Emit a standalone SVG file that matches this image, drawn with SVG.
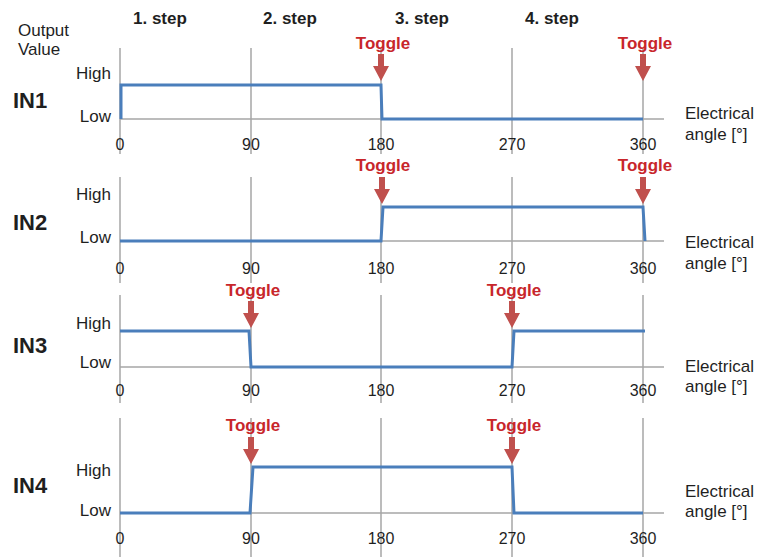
<svg xmlns="http://www.w3.org/2000/svg" width="757" height="557" viewBox="0 0 757 557">
<style>
text{font-family:"Liberation Sans",Arial,sans-serif;fill:#1f1f1f}
.grid{stroke:#a6a6a6;stroke-width:1.5;fill:none}
.sig{stroke:#4a7ebb;stroke-width:3;fill:none;stroke-linejoin:miter}
.lbl{font-size:17px}
.tick{font-size:16px;text-anchor:middle}
.hl{font-size:17px;text-anchor:end}
.in{font-size:22px;font-weight:bold}
.step{font-size:17px;font-weight:bold}
.tog{font-size:17px;font-weight:bold;text-anchor:middle;fill:#c8262b}
.arr{fill:#c0504d}
</style>
<defs>
<path id="arrow" class="arr" d="M-3,0 H3 V12 H8 L0,27 L-8,12 H-3 Z"/>
</defs>
<rect width="757" height="557" fill="#ffffff"/>
<g id="header">
<text class="lbl" x="18" y="36">Output</text>
<text class="lbl" x="18" y="55">Value</text>
<text class="step" x="133" y="24">1. step</text>
<text class="step" x="263" y="24">2. step</text>
<text class="step" x="395" y="24">3. step</text>
<text class="step" x="525" y="24">4. step</text>
</g>
<g id="in1">
<path class="grid" d="M120,48V154M251,48V154M381,48V154M512,48V154M643,48V154M120,119H664"/>
<text class="in" x="13" y="108">IN1</text>
<text class="hl" x="111" y="79">High</text>
<text class="hl" x="111" y="122">Low</text>
<text class="tick" x="120" y="150">0</text><text class="tick" x="251" y="150">90</text><text class="tick" x="381" y="150">180</text><text class="tick" x="512" y="150">270</text><text class="tick" x="643" y="150">360</text>
<text class="lbl" x="685" y="119">Electrical</text><text class="lbl" x="685" y="140">angle [°]</text>
<path class="sig" d="M121,119V85H381L382,119H643"/>
</g>
<g id="in2">
<path class="grid" d="M120,177V283M251,177V283M381,177V283M512,177V283M643,177V283M120,241H664"/>
<text class="in" x="13" y="230">IN2</text>
<text class="hl" x="111" y="200">High</text>
<text class="hl" x="111" y="243">Low</text>
<text class="tick" x="120" y="274">0</text><text class="tick" x="251" y="274">90</text><text class="tick" x="381" y="274">180</text><text class="tick" x="512" y="274">270</text><text class="tick" x="643" y="274">360</text>
<text class="lbl" x="685" y="248">Electrical</text><text class="lbl" x="685" y="269">angle [°]</text>
<path class="sig" d="M120,241H381L383,207H643L645,241"/>
</g>
<g id="in3">
<path class="grid" d="M120,295V403M251,295V403M381,295V403M512,295V403M643,295V403M120,367H664"/>
<text class="in" x="13" y="353">IN3</text>
<text class="hl" x="111" y="329">High</text>
<text class="hl" x="111" y="368">Low</text>
<text class="tick" x="120" y="396">0</text><text class="tick" x="251" y="396">90</text><text class="tick" x="381" y="396">180</text><text class="tick" x="512" y="396">270</text><text class="tick" x="643" y="396">360</text>
<text class="lbl" x="685" y="372">Electrical</text><text class="lbl" x="685" y="392">angle [°]</text>
<path class="sig" d="M120,331H249L251,367H512L514,331H645"/>
</g>
<g id="in4">
<path class="grid" d="M120,418V557M251,418V557M381,418V557M512,418V557M643,418V557M120,513H664"/>
<text class="in" x="13" y="493">IN4</text>
<text class="hl" x="111" y="476">High</text>
<text class="hl" x="111" y="516">Low</text>
<text class="tick" x="120" y="544">0</text><text class="tick" x="251" y="544">90</text><text class="tick" x="381" y="544">180</text><text class="tick" x="512" y="544">270</text><text class="tick" x="643" y="544">360</text>
<text class="lbl" x="685" y="497">Electrical</text><text class="lbl" x="685" y="517">angle [°]</text>
<path class="sig" d="M120,513H250L253,467H512L514,513H643"/>
</g>
<g id="toggles">
<text class="tog" x="383" y="49">Toggle</text><use href="#arrow" x="381" y="54"/>
<text class="tog" x="645" y="49">Toggle</text><use href="#arrow" x="643" y="54"/>
<text class="tog" x="383" y="171">Toggle</text><use href="#arrow" x="382" y="177"/>
<text class="tog" x="645" y="171">Toggle</text><use href="#arrow" x="643" y="177"/>
<text class="tog" x="253" y="296">Toggle</text><use href="#arrow" x="251" y="301"/>
<text class="tog" x="514" y="296">Toggle</text><use href="#arrow" x="512" y="301"/>
<text class="tog" x="253" y="431">Toggle</text><use href="#arrow" x="251" y="437"/>
<text class="tog" x="514" y="431">Toggle</text><use href="#arrow" x="512" y="437"/>
</g>
</svg>
